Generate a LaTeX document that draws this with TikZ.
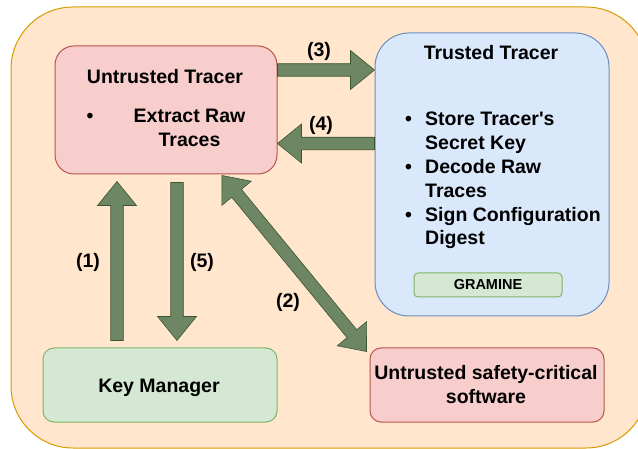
\documentclass[tikz,border=0pt]{standalone}
\usepackage{fontspec}
\setmainfont{Liberation Sans}
\usetikzlibrary{calc}

\definecolor{orfill}{HTML}{FFE6CC}
\definecolor{orline}{HTML}{D79B00}
\definecolor{rdfill}{HTML}{F8CECC}
\definecolor{rdline}{HTML}{B85450}
\definecolor{blfill}{HTML}{DAE8FC}
\definecolor{blline}{HTML}{6C8EBF}
\definecolor{gnfill}{HTML}{D5E8D4}
\definecolor{gnline}{HTML}{82B366}
\definecolor{arfill}{HTML}{6D8764}
\definecolor{arline}{HTML}{3A5431}

\tikzset{
  panel/.style={draw, line width=1pt, inner sep=0pt},
  outerpanel/.style={panel, fill=orfill, draw=orline, rounded corners=62pt},
  redpanel/.style={panel, fill=rdfill, draw=rdline},
  bluepanel/.style={panel, fill=blfill, draw=blline},
  greenpanel/.style={panel, fill=gnfill, draw=gnline},
  txt/.style={inner sep=0pt, font=\bfseries\fontsize{19.5}{23.8}\selectfont},
  smalltxt/.style={inner sep=0pt, font=\bfseries\fontsize{14.5}{17}\selectfont},
  blockarrow/.style={fill=arfill, draw=arline, line width=0.6pt, line join=miter}
}

% single-headed block arrow from #1 to the tip #2
\newcommand\blockarr[2]{%
  \coordinate (bh) at ($(#2)!24pt!(#1)$);
  \filldraw[blockarrow]
    ($(#1)!6.25pt!90:(#2)$) -- ($(bh)!6.25pt!90:(#2)$) -- ($(bh)!19.5pt!90:(#2)$) -- (#2)
    -- ($(bh)!19.5pt!-90:(#2)$) -- ($(bh)!6.25pt!-90:(#2)$) -- ($(#1)!6.25pt!-90:(#2)$) -- cycle;}

% double-headed block arrow between #1 and #2
\newcommand\blockdarr[2]{%
  \coordinate (bhb) at ($(#2)!23pt!(#1)$);
  \coordinate (bha) at ($(#1)!23pt!(#2)$);
  \filldraw[blockarrow]
    (#1) -- ($(bha)!19pt!90:(#2)$) -- ($(bha)!6.25pt!90:(#2)$) -- ($(bhb)!6.25pt!90:(#2)$)
    -- ($(bhb)!19pt!90:(#2)$) -- (#2) -- ($(bhb)!19pt!-90:(#2)$) -- ($(bhb)!6.25pt!-90:(#2)$)
    -- ($(bha)!6.25pt!-90:(#2)$) -- ($(bha)!19pt!-90:(#2)$) -- cycle;}

\begin{document}
\begin{tikzpicture}[x=1pt,y=-1pt]
\useasboundingbox (0,0) rectangle (638,449);

% enclosing panel
\begin{scope}
  \clip (0,0) rectangle (638,449);
  \node[outerpanel, minimum width=637pt, minimum height=441pt] (frame) at (329.5,227.5) {};
\end{scope}

% components
\node[redpanel, minimum width=222pt, minimum height=128pt, rounded corners=19pt] (ut) at (166,110) {};
\node[bluepanel, minimum width=234pt, minimum height=283pt, rounded corners=34pt] (tt) at (492,174.5) {};
\node[greenpanel, smalltxt, minimum width=148pt, minimum height=24pt, rounded corners=4pt] (gr) at (488,285) {GRAMINE};
\node[greenpanel, minimum width=234pt, minimum height=74pt, rounded corners=11pt] (km) at (160,385) {};
\node[redpanel, minimum width=234pt, minimum height=74pt, rounded corners=11pt] (sw) at (487,385) {};

% untrusted tracer text
\node[txt, anchor=base] (utTitle) at (165,84) {Untrusted Tracer};
\node[txt, anchor=base] (utDot) at (90,123) {\textbullet};
\node[txt, anchor=base] (utItemA) at (189.5,123) {Extract Raw};
\node[txt, anchor=base] (utItemB) at (189.5,147) {Traces};

% trusted tracer text
\node[txt, anchor=base] (ttTitle) at (491,60) {Trusted Tracer};
\node[txt, anchor=base west] (ttList) at (405,126) {%
  \begin{tabular}[t]{@{}l@{}l@{}}
  \makebox[20pt][l]{\textbullet} & Store Tracer\textquotesingle s\\
   & Secret Key\\
  \textbullet & Decode Raw\\
   & Traces\\
  \textbullet & Sign Configuration\\
   & Digest
  \end{tabular}};

% other texts
\node[txt, anchor=base] (kmText) at (159,392) {Key Manager};
\node[txt, anchor=base] (swTextA) at (486,380) {Untrusted safety-critical};
\node[txt, anchor=base] (swTextB) at (486,403) {software};

% arrow end points
\coordinate (a3s) at (ut.east |- 0,70);
\coordinate (a3e) at (tt.west |- 0,70);
\coordinate (a4s) at (tt.west |- 0,143.5);
\coordinate (a4e) at (ut.east |- 0,143.5);
\coordinate (a1s) at ([yshift=7pt]km.north -| 117,0);
\coordinate (a1e) at ([yshift=-7pt]ut.south -| 117,0);
\coordinate (a5s) at ([yshift=-8pt]ut.south -| 177,0);
\coordinate (a5e) at ([yshift=7pt]km.north -| 177,0);
\coordinate (a2s) at ([yshift=-1pt]ut.south -| 222,0);
\coordinate (a2e) at ([shift={(-3pt,-4pt)}]sw.north west);

% block arrows
\blockarr{a3s}{a3e}
\blockarr{a4s}{a4e}
\blockarr{a1s}{a1e}
\blockarr{a5s}{a5e}
\blockdarr{a2s}{a2e}

% step labels
\node[txt] (l3) at (319,51) {(3)};
\node[txt] (l4) at (321,125) {(4)};
\node[txt] (l1) at (88,262) {(1)};
\node[txt] (l5) at (202,262) {(5)};
\node[txt] (l2) at (288,302) {(2)};
\end{tikzpicture}
\end{document}
